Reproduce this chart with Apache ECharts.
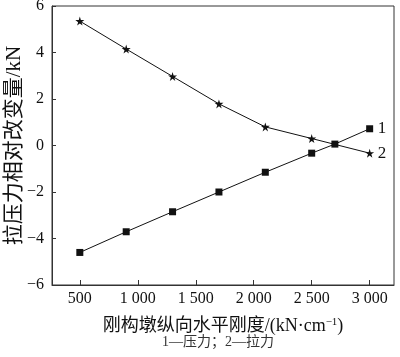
<!DOCTYPE html>
<html><head><meta charset="utf-8">
<script src="https://cdn.jsdelivr.net/npm/echarts@6/dist/echarts.min.js"></script>
<style>html,body{margin:0;padding:0;background:#fff}#c{width:400px;height:357px}</style>
</head><body><div id="c"></div>
<script>
const xValues = [500, 900, 1300, 1700, 2100, 2500, 2700, 3000];
const pressure = [-4.6, -3.71, -2.85, -2.0, -1.15, -0.33, 0.06, 0.72];   // 1 — 压力
const tensionX = [500, 900, 1300, 1700, 2100, 2500, 3000];
const tension = [5.35, 4.15, 2.97, 1.79, 0.80, 0.30, -0.33];             // 2 — 拉力
const xTickValues = [500, 1000, 1500, 2000, 2500, 3000];
const xTickLabels = ['500', '1 000', '1 500', '2 000', '2 500', '3 000'];
const yTickLabels = {'6':'6','4':'4','2':'2','0':'0','-2':'\u22122','-4':'\u22124','-6':'\u22126'};
const seriesNames = ['1', '2'];
const legendNote = '1\u2014压力；2\u2014拉力';

const serif = '"Liberation Serif","Noto Sans CJK SC",serif';
const star = 'path://M50,0 L61,35 L98,35 L68,57 L79,91 L50,70 L21,91 L32,57 L2,35 L39,35 Z';
const chart = echarts.init(document.getElementById('c'));
chart.setOption({
  animation: false,
  backgroundColor: '#fff',
  grid: {left: 52, right: 6, top: 6, bottom: 72, show: true, borderColor: '#333', borderWidth: 1,
    containLabel: false, outerBoundsMode: 'none'},
  xAxis: {
    type: 'value', min: 260, max: 3210,
    axisLine: {onZero: false, lineStyle: {color: '#333', width: 1}},
    axisTick: {inside: true, length: 5, customValues: xTickValues, lineStyle: {color: '#333'}},
    axisLabel: {customValues: xTickValues, margin: 6, color: '#111', fontSize: 16, fontFamily: serif,
      formatter: v => xTickLabels[xTickValues.indexOf(v)]},
    splitLine: {show: false},
    name: '刚构墩纵向水平刚度/(kN·cm{sup|\u22121})',
    nameLocation: 'middle', nameGap: 32, nameMoveOverlap: false,
    nameTextStyle: {color: '#111', fontSize: 18, fontFamily: serif, verticalAlign: 'top',
      rich: {sup: {fontSize: 11, verticalAlign: 'top', padding: [0,0,8,0], fontFamily: serif, color: '#111'}}}
  },
  yAxis: {
    type: 'value', min: -6, max: 6, interval: 2,
    axisLine: {show: true, onZero: false, lineStyle: {color: '#333', width: 1}},
    axisTick: {show: true, inside: true, length: 4, lineStyle: {color: '#333'}},
    axisLabel: {margin: 8, color: '#111', fontSize: 16, fontFamily: serif,
      formatter: v => yTickLabels[String(v)]},
    splitLine: {show: false},
    name: '拉压力相对改变量/kN', nameLocation: 'middle', nameGap: 27, nameRotate: 90, nameMoveOverlap: false,
    nameTextStyle: {color: '#111', fontSize: 21, fontFamily: serif}
  },
  graphic: [{type: 'text', left: 162, top: 335,
    style: {text: legendNote, fontSize: 14, fontFamily: serif, fill: '#333'}}],
  series: [
    {name: seriesNames[0], type: 'line', z: 3,
      data: xValues.map((x, i) => [x, pressure[i]]),
      symbol: 'rect', symbolSize: 7, itemStyle: {color: '#111'},
      lineStyle: {color: '#111', width: 1},
      endLabel: {show: true, formatter: seriesNames[0], distance: 8, color: '#111', fontSize: 17, fontFamily: serif}},
    {name: seriesNames[1], type: 'line', z: 2,
      data: tensionX.map((x, i) => [x, tension[i]]),
      symbol: star, symbolSize: 9, itemStyle: {color: '#111'},
      lineStyle: {color: '#111', width: 1},
      endLabel: {show: true, formatter: seriesNames[1], distance: 8, color: '#111', fontSize: 17, fontFamily: serif}}
  ]
});
</script></body></html>
